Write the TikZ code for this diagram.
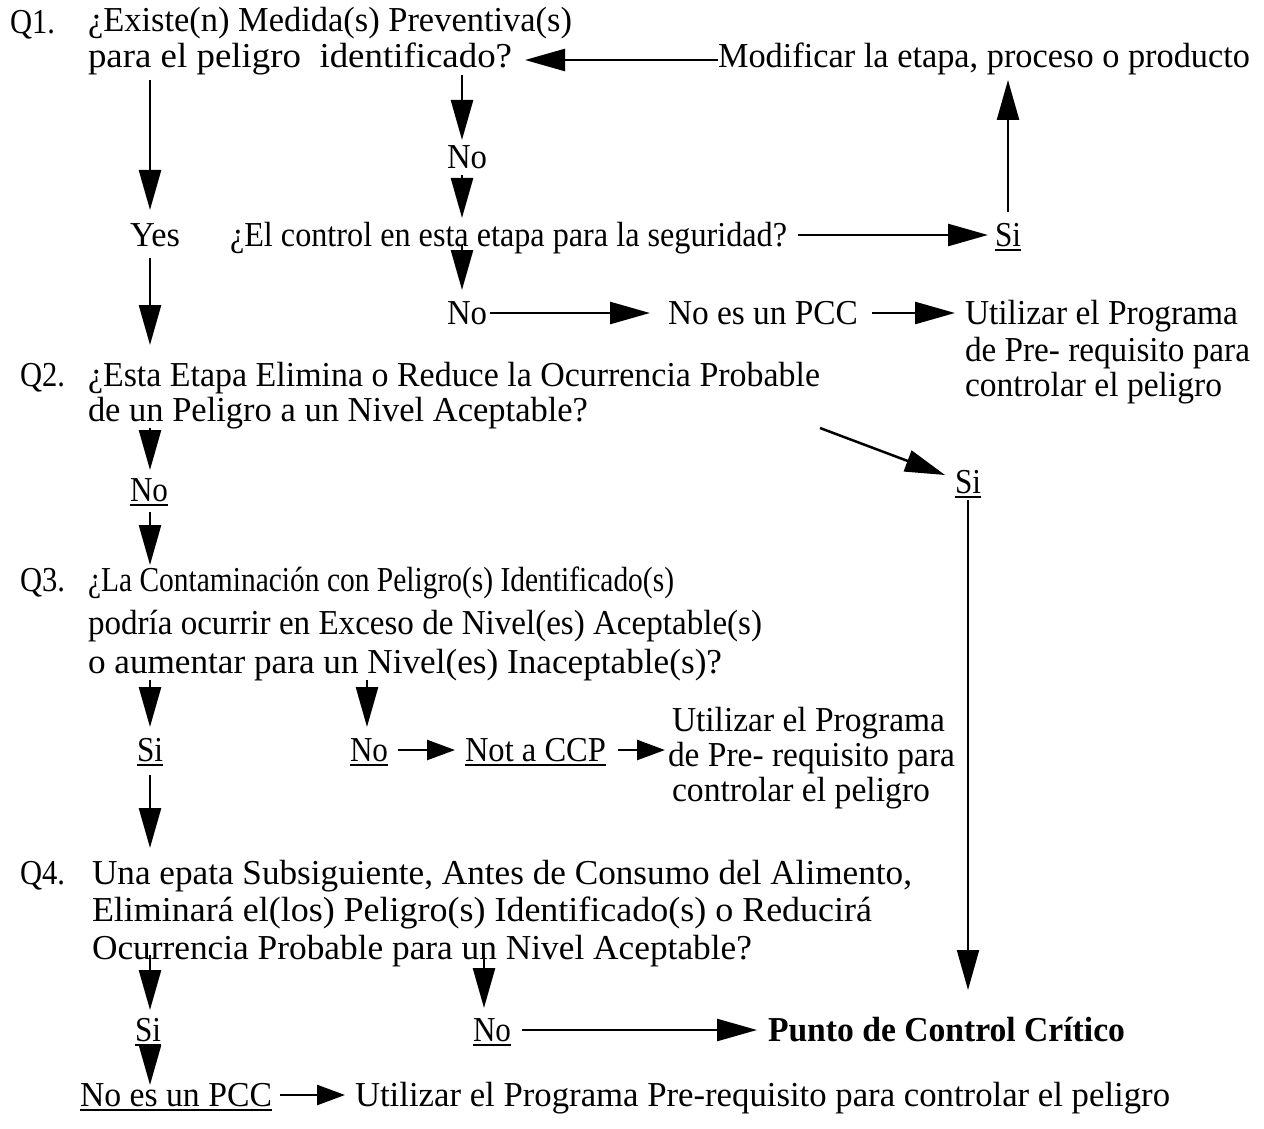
\documentclass[tikz,border=0pt]{standalone}
\usepackage{fontspec}
\setmainfont{Liberation Serif}
\usepackage{graphicx}
\usetikzlibrary{arrows.meta}
\newsavebox\fitbox
\newdimen\fitdim
\newcommand\fitto[2]{\sbox\fitbox{#2}\fitdim=\wd\fitbox\pgfmathsetmacro\fitsx{#1/\fitdim}\scalebox{\fitsx}[1]{\usebox\fitbox}}
\newcommand\ulin[1]{\leavevmode\vtop{\hbox{#1}\kern3pt\hrule height 2pt}}
\begin{document}
\begin{tikzpicture}[x=1pt,y=-1pt,
  txt/.style={anchor=base west, inner sep=0pt, outer sep=0pt, font=\fontsize{35}{40}\selectfont},
  arr/.style={line width=2.5pt, -{Triangle[length=40pt,width=22pt]}},
  sarr/.style={line width=2.5pt, -{Triangle[length=28pt,width=20pt]}}]
\useasboundingbox[fill=white] (0,0) rectangle (1264,1129);

% ---- Q1 ----
\node[txt] (q1lab) at (10,34) {\fitto{45}{Q1.}};
\node[txt] (q1a) at (88,32) {\fitto{484}{¿Existe(n) Medida(s) Preventiva(s)}};
\node[txt] (q1b) at (88,68) {\fitto{424}{para el peligro\ \ identificado?}};
\node[txt] (mod) at (718,68) {\fitto{532}{Modificar la etapa, proceso o producto}};
\node[txt] (no1) at (447,168) {\fitto{40}{No}};
\node[txt] (yes) at (130,246) {\fitto{50}{Yes}};
\node[txt] (ctrl) at (230,246) {\fitto{557}{¿El control en esta etapa para la seguridad?}};
\node[txt] (si1) at (995,246) {\ulin{\fitto{26}{Si}}};
\node[txt] (no2) at (447,324) {\fitto{40}{No}};
\node[txt] (nopcc1) at (668,324) {\fitto{190}{No es un PCC}};
\node[txt] (ut1a) at (965,324) {\fitto{273}{Utilizar el Programa}};
\node[txt] (ut1b) at (965,361) {\fitto{285}{de Pre- requisito para}};
\node[txt] (ut1c) at (965,396) {\fitto{257}{controlar el peligro}};

% ---- Q2 ----
\node[txt] (q2lab) at (20,386) {\fitto{45}{Q2.}};
\node[txt] (q2a) at (88,386) {\fitto{732}{¿Esta Etapa Elimina o Reduce la Ocurrencia Probable}};
\node[txt] (q2b) at (88,421) {\fitto{500}{de un Peligro a un Nivel Aceptable?}};
\node[txt] (no3) at (130,501) {\ulin{\fitto{38}{No}}};
\node[txt] (si2) at (955,493) {\ulin{\fitto{26}{Si}}};

% ---- Q3 ----
\node[txt] (q3lab) at (20,591) {\fitto{45}{Q3.}};
\node[txt] (q3a) at (88,591) {\fitto{586}{¿La Contaminación con Peligro(s) Identificado(s)}};
\node[txt] (q3b) at (88,634) {\fitto{674}{podría ocurrir en Exceso de Nivel(es) Aceptable(s)}};
\node[txt] (q3c) at (88,673) {\fitto{634}{o aumentar para un Nivel(es) Inaceptable(s)?}};
\node[txt] (si3) at (137,761) {\ulin{\fitto{26}{Si}}};
\node[txt] (no4) at (350,761) {\ulin{\fitto{38}{No}}};
\node[txt] (ccp) at (465,761) {\ulin{\fitto{141}{Not a CCP}}};
\node[txt] (ut2a) at (672,731) {\fitto{273}{Utilizar el Programa}};
\node[txt] (ut2b) at (668,766) {\fitto{287}{de Pre- requisito para}};
\node[txt] (ut2c) at (672,801) {\fitto{258}{controlar el peligro}};

% ---- Q4 ----
\node[txt] (q4lab) at (20,884) {\fitto{45}{Q4.}};
\node[txt] (q4a) at (92,884) {\fitto{820}{Una epata Subsiguiente, Antes de Consumo del Alimento,}};
\node[txt] (q4b) at (92,921) {\fitto{780}{Eliminará el(los) Peligro(s) Identificado(s) o Reducirá}};
\node[txt] (q4c) at (92,959) {\fitto{660}{Ocurrencia Probable para un Nivel Aceptable?}};
\node[txt] (si4) at (135,1041) {\ulin{\fitto{26}{Si}}};
\node[txt] (no5) at (473,1041) {\ulin{\fitto{38}{No}}};
\node[txt] (pcc) at (768,1041) {\fitto{357}{\bfseries Punto de Control Crítico}};
\node[txt] (nopcc2) at (80,1106) {\ulin{\fitto{192}{No es un PCC}}};
\node[txt] (ut3) at (355,1106) {\fitto{815}{Utilizar el Programa Pre-requisito para controlar el peligro}};

% ---- connector end points ----
\coordinate (a1s) at (150,80);   \coordinate (a1e) at (150,210);
\coordinate (a2s) at (150,258);  \coordinate (a2e) at (150,345);
\coordinate (a3s) at (462,75);   \coordinate (a3e) at (462,140);
\coordinate (a4s) at (462,175);  \coordinate (a4e) at (462,218);
\coordinate (a5s) at (462,245);  \coordinate (a5e) at (462,290);
\coordinate (a6s) at (490,313);  \coordinate (a6e) at (650,313);
\coordinate (a7s) at (872,313);  \coordinate (a7e) at (955,313);
\coordinate (a8s) at (798,235);  \coordinate (a8e) at (988,235);
\coordinate (a9s) at (1008,212); \coordinate (a9e) at (1008,80);
\coordinate (a10s) at (718,60);  \coordinate (a10e) at (525,60);
\coordinate (a11s) at (150,428); \coordinate (a11e) at (150,470);
\coordinate (a12s) at (150,512); \coordinate (a12e) at (150,565);
\coordinate (a13s) at (820,428); \coordinate (a13e) at (945,475);
\coordinate (a14s) at (968,500); \coordinate (a14e) at (968,990);
\coordinate (a15s) at (150,680); \coordinate (a15e) at (150,727);
\coordinate (a16s) at (367,680); \coordinate (a16e) at (367,727);
\coordinate (a17s) at (398,750); \coordinate (a17e) at (455,750);
\coordinate (a18s) at (618,750); \coordinate (a18e) at (665,750);
\coordinate (a19s) at (150,775); \coordinate (a19e) at (150,848);
\coordinate (a20s) at (150,955); \coordinate (a20e) at (150,1010);
\coordinate (a21s) at (484,955); \coordinate (a21e) at (484,1008);
\coordinate (a22s) at (522,1030); \coordinate (a22e) at (757,1030);
\coordinate (a23s) at (150,1048); \coordinate (a23e) at (150,1085);
\coordinate (a24s) at (280,1095); \coordinate (a24e) at (345,1095);

\draw[arr] (a1s) -- (a1e);
\draw[arr] (a2s) -- (a2e);
\draw[arr] (a3s) -- (a3e);
\draw[arr] (a4s) -- (a4e);
\draw[arr] (a5s) -- (a5e);
\draw[arr] (a6s) -- (a6e);
\draw[arr] (a7s) -- (a7e);
\draw[arr] (a8s) -- (a8e);
\draw[arr] (a9s) -- (a9e);
\draw[arr] (a10s) -- (a10e);
\draw[arr] (a11s) -- (a11e);
\draw[arr] (a12s) -- (a12e);
\draw[arr] (a13s) -- (a13e);
\draw[arr,line width=2pt] (a14s) -- (a14e);
\draw[arr] (a15s) -- (a15e);
\draw[arr] (a16s) -- (a16e);
\draw[sarr] (a17s) -- (a17e);
\draw[sarr] (a18s) -- (a18e);
\draw[arr] (a19s) -- (a19e);
\draw[arr] (a20s) -- (a20e);
\draw[arr] (a21s) -- (a21e);
\draw[arr] (a22s) -- (a22e);
\draw[arr] (a23s) -- (a23e);
\draw[sarr] (a24s) -- (a24e);
\end{tikzpicture}
\end{document}
